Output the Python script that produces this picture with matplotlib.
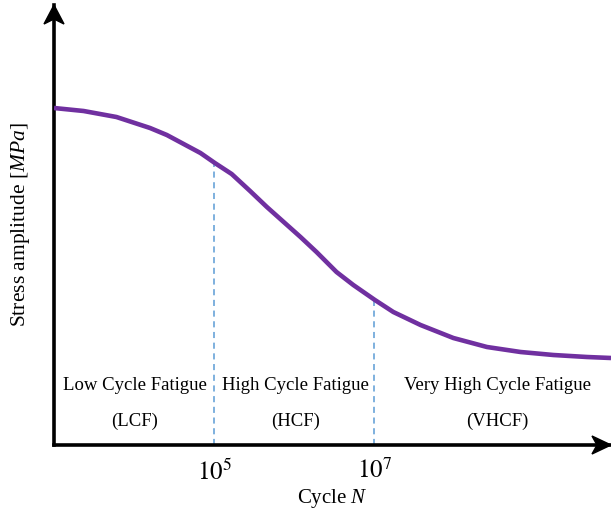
import numpy as np
import matplotlib
matplotlib.use("Agg")
import matplotlib.pyplot as plt
from matplotlib.patches import Polygon

plt.rcParams["font.family"] = ["Liberation Serif", "DejaVu Serif"]
plt.rcParams["mathtext.fontset"] = "custom"
plt.rcParams["mathtext.rm"] = "STIXGeneral"
plt.rcParams["mathtext.it"] = "Liberation Serif:italic"

# S-N curve: log10 of cycle count and stress amplitude (arbitrary MPa scale)
log_cycles = [3.0, 3.37, 3.78, 4.20, 4.41, 4.62, 4.83, 5.01, 5.22, 5.45,
              5.66, 5.87, 6.08, 6.28, 6.53, 6.74, 7.01, 7.24, 7.58, 7.99,
              8.41, 8.83, 9.24, 9.66, 9.96]
stress = [337, 334, 328, 317, 310, 301, 292, 282, 271, 254,
          238, 223, 208, 193, 173, 160, 145, 133, 120, 107,
          98, 93, 90, 88, 87]

boundary_log_cycles = [5, 7]
tick_labels = [r"$10^5$", r"$10^7$"]

regimes = ["Low Cycle Fatigue", "High Cycle Fatigue", "Very High Cycle Fatigue"]
regime_abbr = ["(LCF)", "(HCF)", "(VHCF)"]
regime_log_centers = [4.01, 6.02, 8.54]

W, H = 611, 515
fig = plt.figure(figsize=(W / 100, H / 100), dpi=100)
ax_left, ax_bottom, ax_w, ax_h = 54, 70, 557, 440
ax = fig.add_axes([ax_left / W, ax_bottom / H, ax_w / W, ax_h / H])

cycles = 10.0 ** np.array(log_cycles)
ax.set_xscale("log")
ax.set_xlim(10 ** 3.0, 10 ** 9.96)
ax.set_ylim(0, 440)

ax.plot(cycles, stress, color="#7030A0", lw=3.3, solid_capstyle="butt",
        solid_joinstyle="round", zorder=3)

# regime boundaries up to the curve
for lc in boundary_log_cycles:
    top = np.interp(lc, log_cycles, stress)
    ax.plot([10.0 ** lc, 10.0 ** lc], [0, top], color="#5B9BD5", lw=1.1,
            dashes=(4, 3), zorder=2)

for name, abbr, lc in zip(regimes, regime_abbr, regime_log_centers):
    ax.text(10.0 ** lc, 59, name, ha="center", va="center", fontsize=13.5)
    ax.text(10.0 ** lc, 24, abbr, ha="center", va="center", fontsize=13.5)

ax.set_xticks([10.0 ** lc for lc in boundary_log_cycles])
ax.set_xticklabels(tick_labels, fontsize=18)
ax.xaxis.set_minor_locator(matplotlib.ticker.NullLocator())
ax.set_yticks([])
ax.tick_params(axis="x", length=0, pad=10)

ax.set_xlabel(r"Cycle $N$", fontsize=15, labelpad=2)
ax.set_ylabel(r"Stress amplitude [$MPa$]", fontsize=15.5)
ax.yaxis.set_label_coords(-0.04, 0.5)

for s in ("top", "right"):
    ax.spines[s].set_visible(False)
for s in ("left", "bottom"):
    ax.spines[s].set_linewidth(2.6)
    ax.spines[s].set_color("black")

# arrowheads at the axis ends
fx, fy = 1.0 / ax_w, 1.0 / ax_h
up = Polygon([(0, 1), (-10 * fx, 1 - 19 * fy), (0, 1 - 14 * fy), (10 * fx, 1 - 19 * fy)],
             closed=True, transform=ax.transAxes, color="black", clip_on=False, zorder=5)
right = Polygon([(1, 0), (1 - 19 * fx, 9 * fy), (1 - 14 * fx, 0), (1 - 19 * fx, -9 * fy)],
                closed=True, transform=ax.transAxes, color="black", clip_on=False, zorder=5)
ax.add_patch(up)
ax.add_patch(right)

fig.savefig("out.png", dpi=100)
